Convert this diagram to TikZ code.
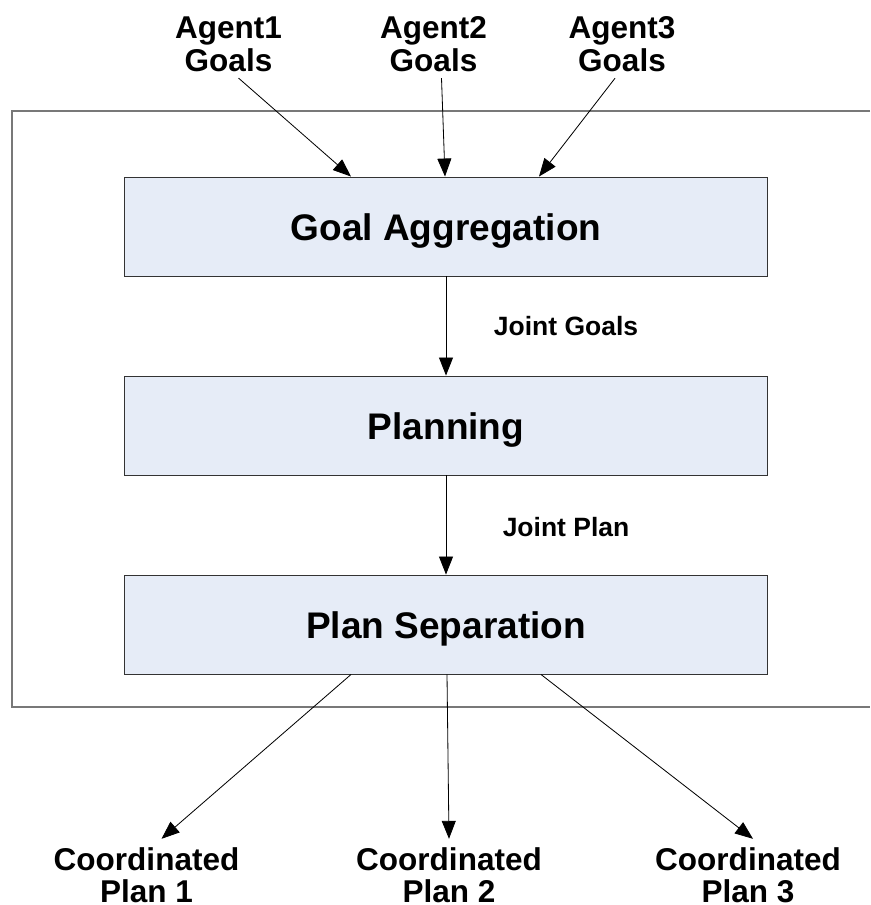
\documentclass[tikz,border=0pt]{standalone}
\usepackage{fontspec}
\setmainfont{Liberation Sans}
\usetikzlibrary{arrows.meta, positioning, calc}

\definecolor{boxfill}{RGB}{230,236,247}
\definecolor{framegray}{RGB}{120,120,120}

\begin{document}
\begin{tikzpicture}[x=0.03cm,y=-0.03cm,>={Triangle[length=0.54cm,width=0.42cm]},node distance=5.97cm,on grid]
    \useasboundingbox (0,0) rectangle (870,905);
    \tikzset{mybox/.style={draw=black!80,line width=0.8pt,fill=boxfill,minimum width=19.3cm,minimum height=2.97cm,text height=23.7pt,text depth=0pt,font=\bfseries\fontsize{31.6}{36}\selectfont}}
    \tikzset{agent/.style={align=center,inner sep=5.5pt,font=\bfseries\fontsize{26.9}{28}\selectfont}}
    \tikzset{result/.style={align=center,inner sep=7pt,font=\bfseries\fontsize{26.9}{27.6}\selectfont}}
    \tikzset{mystyle/.style={->,line width=0.7pt}}

    % outer frame, open on the right
    \draw[framegray,line width=1.1pt] (870,111) -- (12,111) -- (12,707) -- (870,707);

    \node[mybox] (GoalAgg) at (446,226.5) {Goal Aggregation};
    \node[mybox] (Planning) [below =of GoalAgg] {Planning};
    \node[mybox] (PlanSep) [below =of Planning] {Plan Separation};

    \node[agent] (Agent1) at (228.5,44) {Agent1\\Goals};
    \node[agent] (Agent2) at (433.5,44) {Agent2\\Goals};
    \node[agent] (Agent3) at (622,44) {Agent3\\Goals};

    \node[result] (Coord1) at (146.5,875) {Coordinated\\Plan 1};
    \node[result] (Coord2) at (449,875) {Coordinated\\Plan 2};
    \node[result] (Coord3) at (748,875) {Coordinated\\Plan 3};

    \draw[mystyle] ($(Agent1.south)+(10,0)$) -- ($(GoalAgg.north)+(-95,0)$);
    \draw[mystyle] ($(Agent2.south)+(8,0)$) -- ($(GoalAgg.north)+(-1,0)$);
    \draw[mystyle] ($(Agent3.south)+(-7,0)$) -- ($(GoalAgg.north)+(93,0)$);

    \tikzset{every node/.style={font=\bfseries\fontsize{22.6}{26}\selectfont}}
    \path (GoalAgg) edge [mystyle] node[xshift=3.6cm] {Joint Goals} (Planning);
    \path (Planning) edge [mystyle] node[xshift=3.6cm,yshift=-2pt] {Joint Plan} (PlanSep);

    \draw[mystyle] ($(PlanSep.south)+(-95,0)$) -- ($(Coord1.north)+(15,0)$);
    \draw[mystyle] ($(PlanSep.south)+(1,0)$) -- (Coord2.north);
    \draw[mystyle] ($(PlanSep.south)+(95,0)$) -- ($(Coord3.north)+(5,0)$);
\end{tikzpicture}
\end{document}
